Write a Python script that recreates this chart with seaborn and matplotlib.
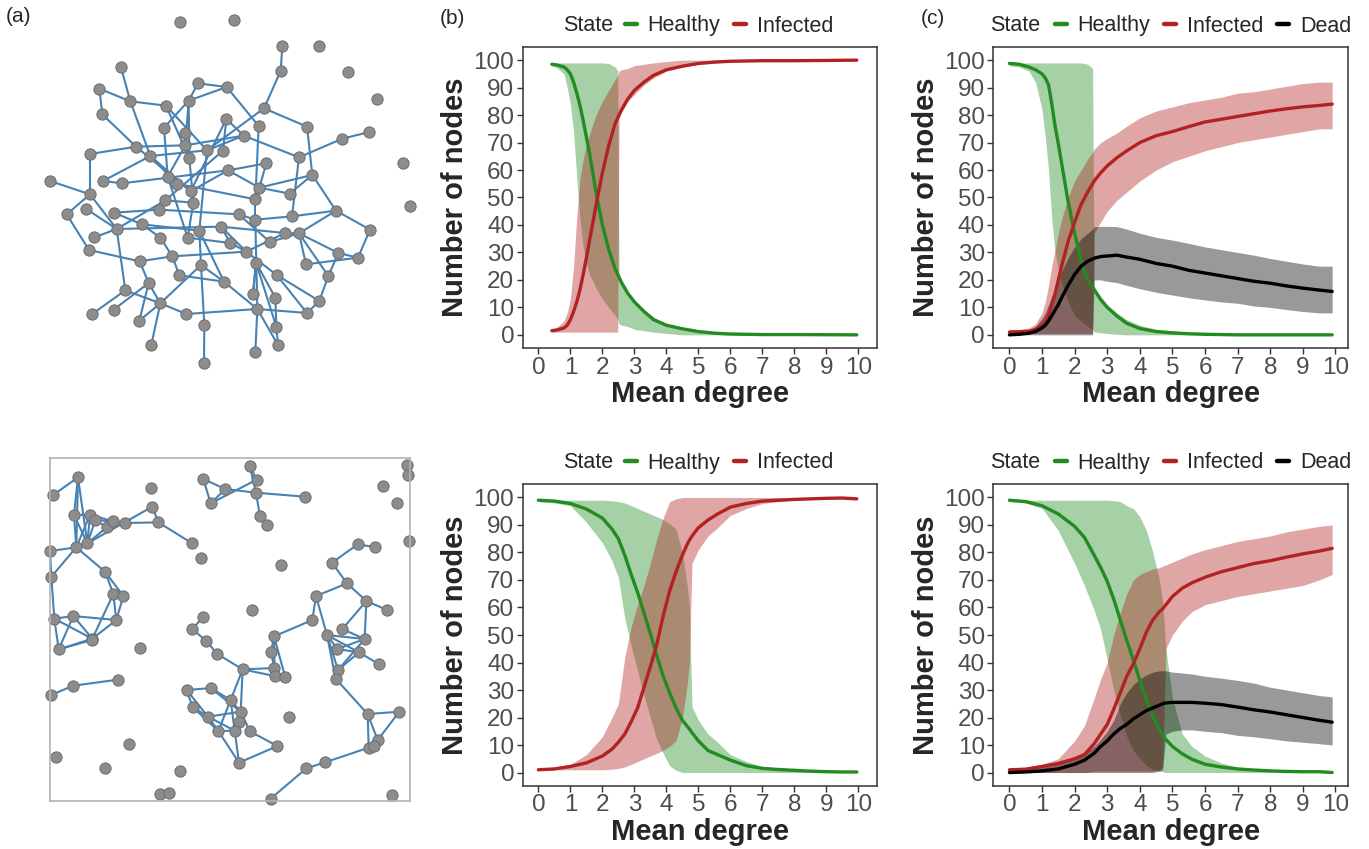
import matplotlib
matplotlib.use('Agg')
import matplotlib.pyplot as plt
from matplotlib.collections import LineCollection
from matplotlib.lines import Line2D
import seaborn as sns
import pandas as pd

W, H = 1369, 849

# ---------------- data: panel (b) top ----------------
b1_degree = [0.42, 0.6, 0.8, 0.9, 1.0, 1.1, 1.2, 1.3, 1.4, 1.5, 1.6, 1.8, 2.0, 2.2, 2.4, 2.48, 2.52,
             2.6, 2.8, 3.0, 3.3, 3.6, 4.0, 4.5, 5.0, 5.5, 6.0, 7.0, 8.0, 9.0, 9.95]
b1_healthy = [98.5, 98.2, 97.5, 96.5, 95, 92, 88, 83.5, 78, 72, 66, 52, 40, 31, 24, 22, 21,
              19, 15, 12, 8.5, 5.5, 3.5, 2.2, 1.2, 0.6, 0.3, 0.1, 0.1, 0.05, 0]
b1_infected = [1.5, 1.8, 2.5, 3.5, 5.5, 8.5, 12, 16.5, 22, 28, 34.5, 47, 59, 69, 77, 79, 80,
               82, 86, 89, 92, 94.5, 96.5, 97.8, 98.8, 99.3, 99.6, 99.8, 99.8, 99.9, 100]
b1_healthy_lo = [98, 97, 95, 90, 84, 74, 57, 42, 32, 26, 22, 17, 13, 10, 7, 5.5, 4,
                 3.5, 3, 2, 1.5, 1, 0.5, 0, 0, 0, 0, 0, 0, 0, 0]
b1_healthy_hi = [99, 99, 99, 99, 99, 99, 99, 99, 99, 99, 99, 99, 99, 98.8, 97.5, 96, 21,
                 19, 15, 12.5, 9, 6.5, 4, 2.5, 1.5, 1, 0.5, 0.2, 0.2, 0.2, 0.1]
b1_infected_lo = [1, 1, 1, 1, 1, 1, 1, 1, 1, 1, 1, 1, 1, 1, 1, 1, 79,
                  81, 85, 87.5, 91, 93.5, 96, 97.5, 98.5, 99, 99.5, 99.8, 99.8, 99.8, 99.9]
b1_infected_hi = [2, 3, 5, 8, 13, 25, 43, 57, 64, 69, 73, 80, 85, 89, 93, 94.5, 96,
                  96.5, 97, 98, 98.5, 99, 99.5, 100, 100, 100, 100, 100, 100, 100, 100]

# ---------------- data: panel (c) top ----------------
c1_degree = [0, 0.3, 0.6, 0.8, 1.0, 1.1, 1.2, 1.3, 1.4, 1.5, 1.6, 1.8, 2.0, 2.2, 2.4, 2.55, 2.6,
             2.8, 3.0, 3.3, 3.6, 4.0, 4.5, 5.0, 5.5, 6.0, 6.5, 7.0, 7.5, 8.0, 8.5, 9.0, 9.5, 9.9]
c1_healthy = [98.8, 98.5, 97.5, 96.5, 95, 93.5, 91, 84, 76, 69.5, 62.5, 48.5, 37, 26.5, 20, 17.5, 16.5,
              12.8, 10, 6.8, 4.2, 2.3, 1.2, 0.7, 0.4, 0.2, 0.1, 0, 0, 0, 0, 0, 0, 0]
c1_infected = [1, 1.1, 1.3, 2, 3.5, 4.5, 7, 11, 15, 20, 25, 34, 41, 47.5, 52, 55, 56,
               59, 61.5, 64.5, 67, 70, 72.5, 74, 75.8, 77.5, 78.5, 79.5, 80.5, 81.5, 82.3, 83, 83.5, 84]
c1_dead = [0, 0.2, 0.6, 1.2, 2.5, 3.5, 5, 7, 9, 11, 13.5, 18, 22, 25, 26.8, 27.6, 27.9,
           28.5, 28.7, 29, 28.3, 27.5, 26, 25, 23.5, 22.5, 21.5, 20.5, 19.5, 18.8, 17.8, 17, 16.3, 15.8]
c1_healthy_lo = [98, 97.5, 96, 92, 82, 72, 60, 42, 30, 24, 19, 12, 7, 5, 3, 2, 1,
                 0.8, 0.5, 0.2, 0, 0, 0, 0, 0, 0, 0, 0, 0, 0, 0, 0, 0, 0]
c1_healthy_hi = [99, 99, 99, 99, 99, 99, 99, 99, 99, 99, 99, 99, 99, 99, 98.5, 97, 17,
                 14, 11, 8, 5.5, 3.5, 2, 1.5, 1, 0.5, 0.3, 0.1, 0, 0, 0, 0, 0, 0]
c1_infected_lo = [0.5, 0.5, 0.5, 0.5, 0.5, 0.5, 0.5, 0.5, 0.5, 0.5, 0.5, 0.5, 0.5, 0.5, 0.5, 0.5, 37,
                  41, 45, 49, 52, 56, 60, 63, 65, 67, 68.5, 70, 71, 72, 73, 74, 75, 75]
c1_infected_hi = [2, 2, 2.5, 4, 8, 12, 18, 25, 31, 37, 42, 50, 56, 60, 64, 66.5, 67.5,
                  70, 71.5, 73.5, 76, 79, 81.5, 83, 84.5, 85.5, 86.5, 88, 88.5, 89.5, 90.5, 91.5, 92, 92]
c1_dead_lo = [0, 0, 0, 0, 0, 0, 0, 0, 0, 0, 0, 0, 0, 0, 0, 0, 20,
              20, 19.5, 19, 18, 16.8, 15.5, 14.5, 13.5, 12.7, 12, 11.5, 10.5, 10, 9.2, 8.5, 8, 8]
c1_dead_hi = [0.5, 0.8, 1.5, 3, 6, 8, 11, 14, 17, 20, 23, 28, 32, 35, 37, 38.5, 39.3,
              39.5, 39.5, 39.4, 38.5, 37, 35.5, 34.5, 33.3, 32, 31, 30, 29, 27.8, 26.8, 25.8, 25, 25]

# ---------------- data: panel (b) bottom ----------------
b2_degree = [0, 0.5, 1.0, 1.5, 2.0, 2.3, 2.5, 2.7, 2.9, 3.1, 3.3, 3.5, 3.7, 3.9, 4.1, 4.3,
             4.5, 4.65, 4.72, 4.8, 5.0, 5.3, 5.6, 6.0, 6.5, 7.0, 7.5, 8.0, 8.5, 9.0, 9.5, 9.95]
b2_healthy = [99, 98.7, 97.8, 95.8, 92.5, 88.5, 85, 79, 72, 65.5, 58, 50.5, 42.5, 35, 29, 23.5,
              19, 16.8, 15.8, 14.5, 11.5, 8, 6.5, 4.5, 2.5, 1.5, 1.1, 0.8, 0.5, 0.3, 0.2, 0.2]
b2_infected = [1, 1.3, 2.2, 3.5, 6, 8.5, 11, 14, 18.5, 23.5, 31, 38.5, 46.5, 57, 66, 73,
               79, 83, 84.5, 86, 89, 91.8, 94, 96.5, 97.8, 98.7, 99, 99.3, 99.5, 99.7, 99.8, 99.5]
b2_healthy_lo = [98.5, 98, 97, 91, 83.5, 77, 71, 56, 46, 37, 28, 20, 12, 7, 2.5, 0.8,
                 0, 0, 0, 0, 0, 0, 0, 0, 0, 0, 0, 0, 0, 0, 0, 0]
b2_healthy_hi = [99, 99, 99, 99, 99, 98.8, 98.5, 98, 97, 96, 95, 94, 93, 92, 90.5, 88.5,
                 80, 68, 60, 24, 19, 14, 11, 6.5, 4, 2.2, 1.5, 1, 0.7, 0.5, 0.5, 0.5]
b2_infected_lo = [1, 1, 1, 1, 1, 1.2, 1.5, 2, 3, 4, 5, 6, 7, 8, 9.5, 11.5,
                  20, 32, 40, 76, 81, 86, 89, 93.5, 96, 97.8, 98.5, 99, 99.3, 99.5, 99.5, 99.5]
b2_infected_hi = [1.5, 2, 3, 6.5, 13, 20, 25, 42, 53, 61, 68, 76, 85, 92.5, 98.5, 99.5,
                  100, 100, 100, 100, 100, 100, 100, 100, 100, 100, 100, 100, 100, 100, 100, 100]

# ---------------- data: panel (c) bottom ----------------
c2_degree = [0, 0.5, 1.0, 1.5, 2.0, 2.3, 2.6, 2.8, 3.0, 3.2, 3.4, 3.6, 3.8, 4.0, 4.2, 4.4,
             4.6, 4.7, 4.8, 5.0, 5.3, 5.6, 6.0, 6.5, 7.0, 7.5, 8.0, 8.5, 9.0, 9.5, 9.9]
c2_healthy = [99, 98.5, 97, 94, 89.5, 85.5, 79, 74.5, 69.5, 63, 55.5, 48, 41, 33.5, 26.5, 20.5,
              15.5, 13.5, 12, 9.5, 6.8, 4.8, 3, 2, 1.3, 0.9, 0.6, 0.4, 0.3, 0.3, 0]
c2_infected = [1, 1.2, 2.2, 3.3, 5, 6.5, 10.5, 14, 17.5, 23, 29, 35, 39.5, 45, 51, 55.5,
               58.5, 59.5, 61, 64, 67, 69, 71, 73, 74.5, 76, 77, 78.3, 79.5, 80.5, 81.5]
c2_dead = [0, 0.2, 0.6, 1.3, 3, 4.5, 7, 9.5, 11.5, 14, 16, 17.5, 19.5, 21, 22.5, 23.5,
           24.5, 25, 25.3, 25.5, 25.5, 25.5, 25.2, 24.7, 23.8, 22.8, 22, 21, 20, 19, 18.3]
c2_healthy_lo = [98.5, 98, 96, 88, 76, 68, 59, 52, 41, 30, 21, 13, 8, 5, 2.5, 1,
                 0.5, 0.3, 0, 0, 0, 0, 0, 0, 0, 0, 0, 0, 0, 0, 0]
c2_healthy_hi = [99, 99, 99, 99, 99, 99, 99, 99, 99, 98.8, 98.5, 97, 96, 93, 88, 80,
                 70, 62, 45, 27, 14, 9.5, 6, 3.5, 2, 1.2, 0.8, 0.5, 0.3, 0.3, 0.3]
c2_infected_lo = [0, 0, 0, 0, 0, 0, 0.5, 0.5, 0.5, 0.5, 0.5, 0.5, 0.5, 0.5, 0.5, 0.5,
                  1, 2, 45, 50, 55, 58.5, 61, 62.5, 64, 65, 66, 67, 68, 70, 72]
c2_infected_hi = [1.5, 2, 3, 5, 11.5, 17, 27, 34, 40, 50, 58, 65, 70, 72, 73, 74,
                  74.5, 75, 75.5, 76.5, 78, 79.5, 81, 82.5, 84, 85, 86, 87.5, 88.5, 89.5, 90]
c2_dead_lo = [0, 0, 0, 0, 0, 0, 0, 0, 0, 0, 0, 0, 0, 0, 0, 0,
              0.5, 1, 14, 15, 15.5, 15.5, 15, 14.5, 13.5, 13, 12.3, 11.5, 11, 10.5, 10]
c2_dead_hi = [1, 1.5, 2, 3.5, 5, 7, 9.5, 12, 15, 19, 25, 29, 32, 34, 35.5, 36.5,
              37, 37, 37, 36.5, 36.2, 35.8, 35, 34.3, 33.5, 32.5, 31, 30, 29, 28, 27.5]

states = ['Healthy', 'Infected', 'Dead']
state_colors = {'Healthy': '#228B22', 'Infected': '#B22222', 'Dead': '#000000'}

# ---------------- network (a) top: random graph layout ----------------
er_x = [540, 701, 847, 958, 842, 1043, 1131, 363, 298, 594, 680, 391, 498, 566, 307, 792, 679, 492, 776, 921,
        1108, 1027, 555, 731, 408, 556, 621, 270, 451, 669, 568, 897, 1210, 799, 684, 150, 309, 366, 503, 530,
        937, 778, 572, 270, 869, 496, 580, 766, 1230, 200, 259, 342, 478, 1008, 716, 766, 876, 426, 350, 598,
        663, 1110, 283, 481, 563, 855, 897, 691, 810, 267, 739, 1015, 517, 1074, 419, 603, 768, 918, 538, 830,
        985, 446, 672, 376, 759, 826, 958, 481, 275, 341, 559, 772, 921, 418, 613, 829, 454, 766, 834, 612]
er_y = [66, 59, 137, 137, 213, 217, 298, 202, 266, 250, 261, 304, 317, 302, 343, 325, 357, 383, 378, 380,
        396, 416, 400, 407, 440, 436, 451, 462, 468, 452, 475, 472, 490, 490, 511, 543, 543, 550, 530, 551,
        525, 563, 574, 583, 581, 601, 608, 598, 617, 643, 627, 638, 629, 632, 643, 659, 649, 673, 687, 692,
        680, 689, 712, 713, 713, 699, 700, 729, 726, 750, 755, 759, 769, 773, 784, 795, 788, 793, 826, 825,
        828, 849, 845, 871, 881, 893, 903, 910, 943, 929, 942, 927, 939, 962, 976, 980, 1034, 1055, 1035, 1088]
er_edges = [(3, 5), (5, 16), (16, 20), (16, 27), (20, 41), (41, 54), (54, 62), (62, 74), (74, 78), (72, 81),
            (81, 87), (87, 93), (21, 22), (22, 32), (32, 57), (41, 42), (8, 12), (9, 12), (9, 15), (12, 13),
            (12, 29), (15, 25), (13, 27), (10, 14), (10, 11), (11, 19), (11, 14), (14, 18), (14, 26), (18, 39),
            (28, 25), (28, 44), (25, 26), (26, 24), (29, 27), (29, 43), (29, 40), (36, 44), (37, 29), (38, 35),
            (17, 30), (17, 24), (17, 43), (24, 32), (27, 24), (34, 42), (34, 35), (35, 42), (42, 45), (19, 48),
            (23, 26), (31, 14), (31, 47), (44, 50), (44, 59), (50, 70), (51, 59), (52, 53), (63, 59), (59, 84),
            (59, 46), (70, 75), (58, 60), (75, 73), (75, 82), (82, 94), (88, 91), (88, 84), (88, 97), (88, 76),
            (84, 89), (90, 82), (91, 92), (95, 100), (95, 76), (73, 79), (64, 73), (60, 76), (58, 64), (46, 53),
            (47, 65), (54, 67), (67, 78), (67, 81), (67, 72), (66, 67), (61, 66), (57, 56), (56, 55), (48, 56),
            (68, 71), (61, 68), (69, 67), (71, 80), (71, 66), (77, 96), (77, 86), (80, 93), (83, 92), (86, 96),
            (96, 99), (92, 99), (92, 93), (92, 98), (80, 87), (85, 77), (46, 47), (53, 55), (59, 61), (26, 39),
            (27, 60), (40, 48), (45, 41), (57, 54), (72, 74), (73, 71), (79, 83), (83, 60), (82, 88), (88, 94),
            (61, 71), (39, 65), (43, 47), (25, 43), (30, 46), (35, 43), (13, 31), (56, 92), (77, 85), (37, 38),
            (52, 58), (65, 68), (55, 69), (76, 83)]

# ---------------- network (a) bottom: geometric graph layout ----------------
geo_x = [234, 158, 452, 222, 270, 286, 320, 340, 375, 457, 475, 262, 229, 150, 575, 604, 154, 316, 340, 370,
         163, 220, 349, 277, 275, 176, 420, 153, 220, 353, 169, 386, 314, 539, 480, 507, 749, 610, 676, 770,
         632, 768, 915, 780, 800, 1222, 1224, 1148, 1190, 1228, 1073, 1124, 996, 842, 1041, 948, 1099, 1162, 755, 937,
         1027, 981, 1094, 1012, 1077, 1138, 1014, 1007, 608, 577, 618, 652, 822, 813, 728, 823, 824, 856, 560, 632,
         578, 692, 624, 722, 716, 655, 704, 750, 868, 832, 717, 1103, 1198, 1133, 1106, 1122, 975, 919, 812, 1176]
geo_y = [112, 166, 143, 225, 224, 240, 262, 244, 249, 200, 247, 310, 322, 333, 309, 355, 410, 396, 462, 468,
         536, 528, 540, 596, 600, 628, 624, 765, 737, 719, 952, 912, 984, 993, 1062, 1058, 77, 117, 147, 119,
         190, 158, 170, 229, 255, 75, 105, 137, 190, 302, 313, 321, 368, 374, 430, 468, 483, 510, 509, 540,
         567, 585, 597, 627, 637, 673, 690, 716, 532, 567, 602, 642, 589, 635, 688, 684, 708, 712, 750, 744,
         801, 780, 830, 815, 845, 873, 872, 874, 832, 918, 968, 822, 815, 900, 923, 918, 967, 985, 1076, 1064]
geo_edges = [(1, 2), (1, 4), (1, 13), (1, 12), (4, 5), (4, 13), (4, 12), (5, 6), (5, 12), (5, 13), (5, 8), (6, 8),
             (6, 7), (7, 8), (8, 9), (6, 12), (7, 12), (12, 10), (9, 11), (10, 11), (11, 15), (12, 13), (13, 14),
             (13, 17), (13, 18), (14, 17), (17, 21), (18, 19), (18, 20), (19, 20), (19, 23), (20, 23), (19, 24),
             (21, 22), (21, 26), (21, 24), (22, 23), (22, 24), (22, 26), (23, 24), (26, 24), (26, 25), (28, 29),
             (29, 30), (38, 39), (38, 41), (39, 41), (41, 40), (39, 42), (40, 37), (37, 42), (42, 43), (42, 44),
             (51, 52), (51, 53), (53, 55), (55, 56), (55, 57), (57, 58), (57, 61), (57, 63), (56, 60), (56, 62),
             (60, 73), (62, 63), (62, 64), (62, 65), (62, 67), (62, 68), (64, 63), (64, 65), (65, 66), (63, 67),
             (65, 67), (61, 63), (68, 92), (92, 93), (92, 94), (93, 94), (92, 95), (95, 96), (94, 96), (95, 97),
             (97, 98), (98, 99), (69, 70), (70, 71), (71, 72), (72, 75), (75, 76), (75, 77), (73, 74), (73, 77),
             (73, 78), (74, 76), (76, 77), (75, 82), (75, 84), (79, 80), (79, 81), (80, 82), (81, 83), (81, 86),
             (82, 84), (82, 86), (82, 87), (83, 84), (83, 86), (83, 87), (84, 85), (84, 88), (85, 87), (86, 87),
             (86, 91), (87, 91), (88, 90), (91, 90), (80, 84), (79, 83)]

sns.set_style('white')
plt.rcParams['font.family'] = ['Liberation Sans', 'DejaVu Sans']

fig = plt.figure(figsize=(W / 100, H / 100), dpi=100)


def px_box(left, top, right, bottom):
    return [left / W, 1 - bottom / H, (right - left) / W, (bottom - top) / H]


def draw_network(ax, xs, ys, edges):
    segs = [[(xs[a - 1], ys[a - 1]), (xs[b - 1], ys[b - 1])] for a, b in edges]
    ax.add_collection(LineCollection(segs, colors='#4682B4', linewidths=1.5, zorder=1, clip_on=False))
    sns.scatterplot(x=xs, y=ys, ax=ax, s=66, color='#8C8C8C', edgecolor='#6E6E6E',
                    linewidth=0.7, zorder=2, clip_on=False, legend=False)


# top network: no frame
ax_er = fig.add_axes(px_box(0, 0, 430, 380))
draw_network(ax_er, er_x, er_y, er_edges)
ax_er.set_xlim(0, 1290)
ax_er.set_ylim(1140, 0)
ax_er.axis('off')

# bottom network: framed square
ax_geo = fig.add_axes(px_box(50, 457.7, 410, 800.7))
draw_network(ax_geo, geo_x, geo_y, geo_edges)
ax_geo.set_xlim(150, 1230)
ax_geo.set_ylim(1082, 53)
ax_geo.set_xticks([])
ax_geo.set_yticks([])
ax_geo.set_xlabel('')
ax_geo.set_ylabel('')
for sp in ax_geo.spines.values():
    sp.set_color('#B3B3B3')
    sp.set_linewidth(1.2)


def draw_panel(box, degree, series, bands, xlim):
    ax = fig.add_axes(px_box(*box))
    for st in bands:
        lo, hi = bands[st]
        ax.fill_between(degree, lo, hi, color=state_colors[st], alpha=0.4, linewidth=0, zorder=1)
    rows = []
    for st in series:
        for d, v in zip(degree, series[st]):
            rows.append({'degree': d, 'nodes': v, 'State': st})
    df = pd.DataFrame(rows)
    sns.lineplot(data=df, x='degree', y='nodes', hue='State', hue_order=list(series),
                 palette=state_colors, estimator=None, sort=False, linewidth=2.4,
                 legend=False, ax=ax, zorder=3)
    ax.set_xlim(*xlim)
    ax.set_ylim(-4.9, 104.9)
    ax.set_xticks(range(0, 11))
    ax.set_yticks(range(0, 101, 10))
    ax.tick_params(axis='both', labelsize=17.5, labelcolor='#4D4D4D', color='#333333',
                   length=4, width=1, direction='out', pad=2, bottom=True, left=True)
    ax.set_xlabel('Mean degree', fontsize=21, fontweight='bold', labelpad=1)
    ax.set_ylabel('Number of nodes', fontsize=21, fontweight='bold', labelpad=3)
    for sp in ax.spines.values():
        sp.set_color('#333333')
        sp.set_linewidth(1.1)
    return ax


def add_legend(state_x, key_x, y, names):
    yf = 1 - y / H
    fig.text(state_x / W, 1 - (y - 3) / H, 'State', fontsize=15.5, ha='left', va='center_baseline')
    handles = [Line2D([], [], color=state_colors[n], linewidth=3.2) for n in names]
    fig.legend(handles, names, loc='center left', bbox_to_anchor=(key_x / W, yf),
               ncol=len(names), frameon=False, fontsize=15.5, handlelength=0.55,
               handletextpad=0.5, columnspacing=0.65, borderpad=0, borderaxespad=0)


b_xlim = (-0.49, 10.59)
c_xlim = (-0.495, 10.395)

draw_panel((522.7, 46.7, 877.3, 348.3), b1_degree,
           {'Healthy': b1_healthy, 'Infected': b1_infected},
           {'Healthy': (b1_healthy_lo, b1_healthy_hi), 'Infected': (b1_infected_lo, b1_infected_hi)},
           b_xlim)
draw_panel((993.3, 46.7, 1348.3, 348.3), c1_degree,
           {'Healthy': c1_healthy, 'Infected': c1_infected, 'Dead': c1_dead},
           {'Healthy': (c1_healthy_lo, c1_healthy_hi), 'Infected': (c1_infected_lo, c1_infected_hi),
            'Dead': (c1_dead_lo, c1_dead_hi)},
           c_xlim)
draw_panel((522.7, 484, 877.3, 786), b2_degree,
           {'Healthy': b2_healthy, 'Infected': b2_infected},
           {'Healthy': (b2_healthy_lo, b2_healthy_hi), 'Infected': (b2_infected_lo, b2_infected_hi)},
           b_xlim)
draw_panel((993.3, 484, 1348.3, 786), c2_degree,
           {'Healthy': c2_healthy, 'Infected': c2_infected, 'Dead': c2_dead},
           {'Healthy': (c2_healthy_lo, c2_healthy_hi), 'Infected': (c2_infected_lo, c2_infected_hi),
            'Dead': (c2_dead_lo, c2_dead_hi)},
           c_xlim)

add_legend(563, 625, 26, ['Healthy', 'Infected'])
add_legend(990, 1055, 26, ['Healthy', 'Infected', 'Dead'])
add_legend(563, 625, 463, ['Healthy', 'Infected'])
add_legend(990, 1055, 463, ['Healthy', 'Infected', 'Dead'])

fig.text(6 / W, 1 - 17 / H, '(a)', fontsize=15, ha='left', va='center')
fig.text(440 / W, 1 - 18 / H, '(b)', fontsize=15, ha='left', va='center')
fig.text(921 / W, 1 - 18 / H, '(c)', fontsize=15, ha='left', va='center')

fig.savefig('out.png', dpi=100)
